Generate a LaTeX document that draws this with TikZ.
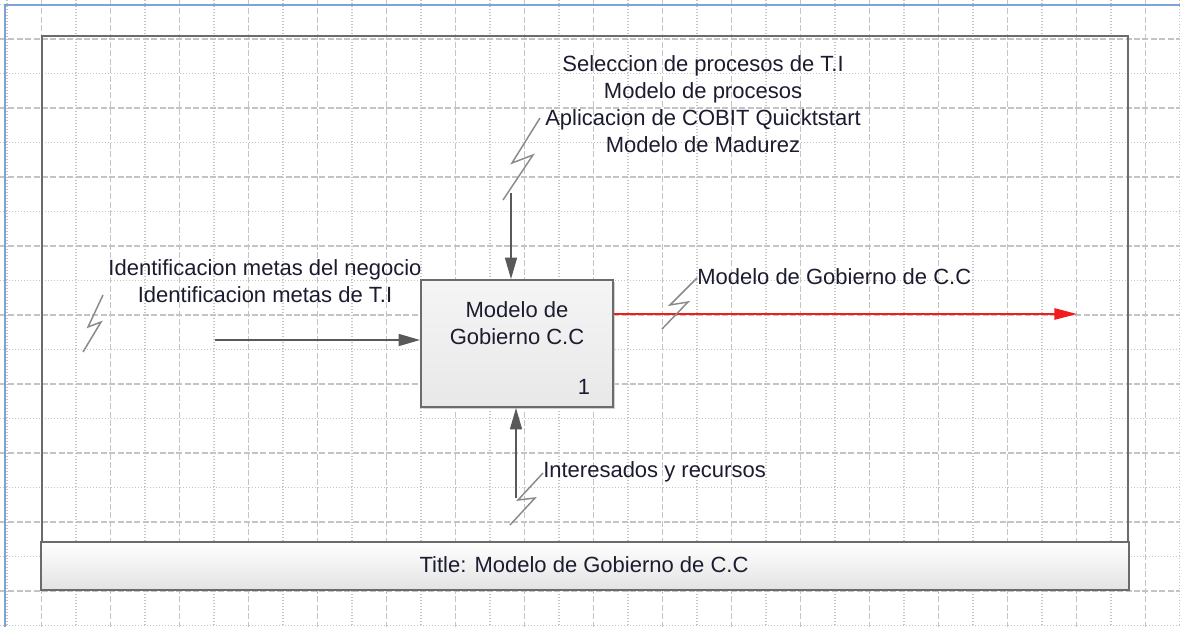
\documentclass[tikz,border=0pt]{standalone}
\usepackage{fontspec}
\setmainfont{Liberation Sans}
\usetikzlibrary{arrows.meta}
\definecolor{gridc}{HTML}{C4C4C4}
\definecolor{framec}{HTML}{6B6B6B}
\definecolor{arrc}{HTML}{595959}
\definecolor{squigc}{HTML}{8A8A8A}
\definecolor{txtc}{HTML}{1C1C30}
\definecolor{bluec}{HTML}{7BA3D8}
\definecolor{redc}{HTML}{F21C1C}
\begin{document}
\begin{tikzpicture}[x=0.75pt,y=-0.75pt,
  majorgrid/.style={gridc,line width=1.1pt,dash pattern=on 4.5pt off 1.8pt},
  minorgrid/.style={gridc,line width=1.0pt,dash pattern=on 0.9pt off 1.35pt},
  lbl/.style={text=txtc,font=\fontsize{16.5pt}{20.25pt}\selectfont,inner sep=0pt,align=center},
  arr/.style={arrc,line width=1.1pt,-{Triangle[length=16pt,width=9pt]}},
  redarr/.style={redc,line width=1.3pt,-{Triangle[length=17pt,width=8.5pt]}},
  squig/.style={squigc,line width=1.1pt},
  abox/.style={draw=framec,line width=1.5pt,top color=white!96!black,bottom color=white!91!black,minimum width=144pt,minimum height=95.25pt,inner sep=0pt}]
\useasboundingbox (0,0) rectangle (1180,627);
\fill[white] (0,0) rectangle (1180,627);
% grid
\foreach \k in {-1,...,33}{
  \pgfmathsetmacro{\xx}{41.5+34.5*\k}
  \ifodd\k \draw[minorgrid] (\xx,0) -- (\xx,627); \else \draw[majorgrid] (\xx,0) -- (\xx,627); \fi
}
\foreach \k in {-1,...,17}{
  \pgfmathsetmacro{\yy}{39+34.5*\k}
  \ifodd\k \draw[minorgrid] (0,\yy) -- (1180,\yy); \else \draw[majorgrid] (0,\yy) -- (1180,\yy); \fi
}
% blue window edges
\draw[bluec,line width=1.6pt] (5,627) -- (5,5) -- (1180,5);
% frame
\draw[framec,line width=1.5pt] (41.5,36) rectangle (1128,590);
\node[draw=framec,line width=1.5pt,top color=white,bottom color=white!89!black,minimum width=815.6pt,minimum height=36pt,inner sep=0pt] (title) at (584.75,566) {};
\node[lbl] (titletxt) at (584,565) {Title: Modelo de Gobierno de C.C};
% main activity box
\fill[black!18] (422.5,281.5) rectangle (614.5,408.5);
\node[abox] (box) at (517,343.5) {};
\node[lbl] (boxtxt) at (517,323.5) {Modelo de\\Gobierno C.C};
\node[lbl] (num) at (584,387) {1};
% input
\coordinate (inS) at (215,340);
\draw[arr] (inS) -- (box.west |- inS);
\node[lbl] (inlbl) at (265,281.5) {Identificacion metas del negocio\\Identificacion metas de T.I};
\draw[squig] (103,295) -- (88,327) -- (101,322) -- (83,352);
% control
\coordinate (ctlS) at (511,193);
\draw[arr] (ctlS) -- (ctlS |- box.north);
\node[lbl] (ctllbl) at (703,104.5) {Seleccion de procesos de T.I\\Modelo de procesos\\Aplicacion de COBIT Quicktstart\\Modelo de Madurez};
\draw[squig] (540,118) -- (512,163) -- (533,155) -- (503,200);
% output
\coordinate (outE) at (1077,314);
\draw[redarr] (box.east |- outE) -- (outE);
\node[lbl,anchor=west] (outlbl) at (697,277) {Modelo de Gobierno de C.C};
\draw[squig] (697,278) -- (670,305) -- (688,302) -- (662,329);
% mechanism
\coordinate (mechS) at (516,498);
\draw[arr] (mechS) -- (mechS |- box.south);
\node[lbl,anchor=west] (mechlbl) at (543,472) {Interesados y recursos};
\draw[squig] (543,473) -- (518,500) -- (535,498) -- (510,525);
\end{tikzpicture}
\end{document}
